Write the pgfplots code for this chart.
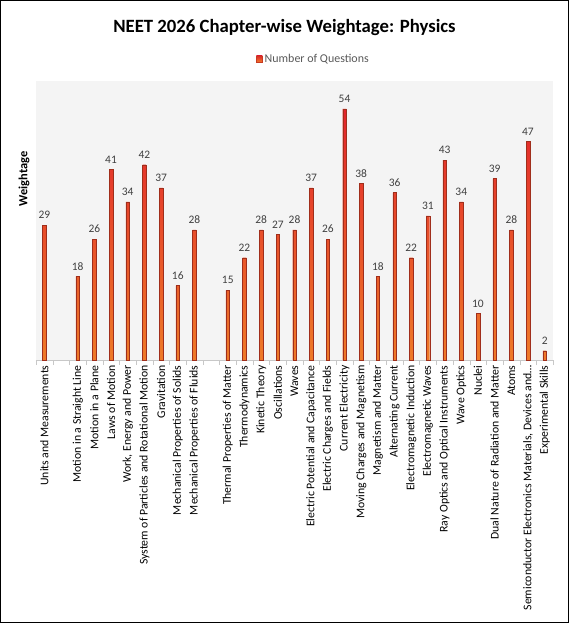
\documentclass[border=0pt]{standalone}
\usepackage{pgfplots}
\pgfplotsset{compat=1.18}
\usepackage{fontspec}
\setmainfont{Carlito}
\definecolor{bgc}{HTML}{F4F4F4}
\definecolor{barTop}{HTML}{E2242C}
\definecolor{barBot}{HTML}{EE7A28}
\definecolor{barEdge}{HTML}{C83A22}
\definecolor{numc}{HTML}{404040}
\definecolor{legc}{HTML}{595959}
\definecolor{axc}{HTML}{C8C8C8}
\begin{document}
\begin{tikzpicture}
\path[use as bounding box] (0bp,0bp) rectangle (569bp,623bp);
\begin{axis}[
  at={(36bp,263bp)}, anchor=south west,
  scale only axis, width=517bp, height=279bp,
  xmin=-0.5, xmax=30.5, ymin=0, ymax=60,
  axis background/.style={fill=bgc},
  axis x line*=bottom, axis y line=none,
  x axis line style={draw=axc},
  xtick={0,...,30},
  major x tick style={draw=none},
  minor xtick={-0.5,0.5,...,30.5},
  minor x tick style={draw=axc},
  minor tick length=5bp,
  tick align=outside,
  xticklabels={Units and Measurements,{},Motion in a Straight Line,Motion in a Plane,Laws of Motion,{Work, Energy and Power},System of Particles and Rotational Motion,Gravitation,Mechanical Properties of Solids,Mechanical Properties of Fluids,{},Thermal Properties of Matter,Thermodynamics,Kinetic Theory,Oscillations,Waves,Electric Potential and Capacitance,Electric Charges and Fields,Current Electricity,Moving Charges and Magnetism,Magnetism and Matter,Alternating Current,Electromagnetic Induction,Electromagnetic Waves,Ray Optics and Optical Instruments,Wave Optics,Nuclei,Dual Nature of Radiation and Matter,Atoms,{Semiconductor Electronics Materials, Devices and…},Experimental Skills},
  xticklabel style={rotate=90, anchor=east, inner sep=0pt, xshift=-1bp, font=\fontsize{11.8}{13}\selectfont, text=black},
  /pgf/number format/assume math mode=true,
  nodes near coords,
  every node near coord/.append style={font=\fontsize{11.5}{13}\selectfont, text=numc, inner sep=0pt, yshift=6bp},
  legend style={at={(axis description cs:0.4255,1.079)}, anchor=west, draw=none, fill=none, font=\fontsize{12}{13}\selectfont, text=legc, inner sep=0pt},
  legend image code/.code={\draw[draw=barEdge, fill=barBot!70!barTop, line width=0.5bp] (0bp,-3bp) rectangle (6bp,3bp);},
  clip=false,
]
\addplot[ybar, bar width=3.6bp, bar shift=0pt, draw=barEdge!80!black, line width=0.4bp, top color=barTop, bottom color=barBot] coordinates {
(0,29) (2,18) (3,26) (4,41) (5,34) (6,42) (7,37) (8,16) (9,28)
(11,15) (12,22) (13,28) (14,27) (15,28) (16,37) (17,26) (18,54) (19,38)
(20,18) (21,36) (22,22) (23,31) (24,43) (25,34) (26,10) (27,39) (28,28)
(29,47) (30,2)};
\addlegendentry{Number of Questions}
\end{axis}
\node[font=\bfseries\fontsize{18.8}{21}\selectfont] at (284.5bp,595bp) {NEET 2026 Chapter-wise Weightage: Physics};
\node[font=\bfseries\fontsize{12.5}{14}\selectfont, rotate=90] at (24bp,444bp) {Weightage};
\draw[black, line width=1.4bp] (0.7bp,0.7bp) rectangle (568.3bp,622.3bp);
\end{tikzpicture}
\end{document}
